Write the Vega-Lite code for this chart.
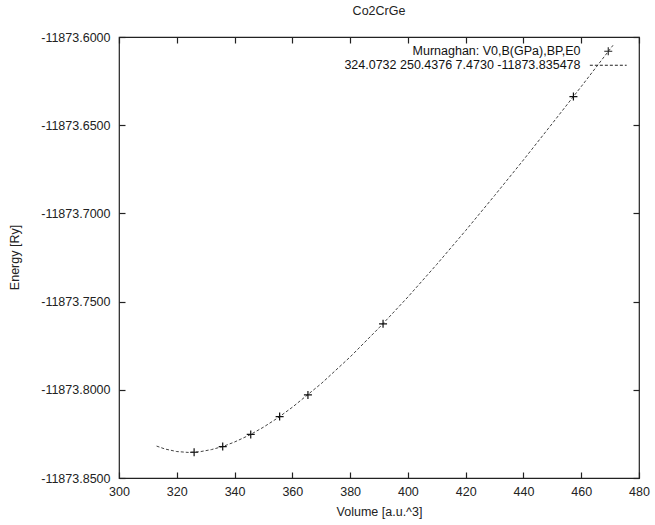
{
  "$schema": "https://vega.github.io/schema/vega-lite/v6.json",
  "width": 520,
  "height": 441,
  "autosize": "none",
  "padding": {"left": 119, "top": 37, "right": 16, "bottom": 47},
  "background": "white",
  "title": {"text": "Co2CrGe", "fontSize": 12.5, "fontWeight": "normal", "font": "Liberation Sans", "color": "#222", "offset": 14, "anchor": "middle"},
  "config": {"view": {"stroke": "#222", "strokeWidth": 1.2}, "font": "Liberation Sans"},
  "datasets": {
    "pts": [
      {"V": 326.0, "E": -11873.8354, "series": "Murnaghan: V0,B(GPa),BP,E0"},
      {"V": 335.9, "E": -11873.8322, "series": "Murnaghan: V0,B(GPa),BP,E0"},
      {"V": 345.6, "E": -11873.8253, "series": "Murnaghan: V0,B(GPa),BP,E0"},
      {"V": 355.6, "E": -11873.8152, "series": "Murnaghan: V0,B(GPa),BP,E0"},
      {"V": 365.4, "E": -11873.8029, "series": "Murnaghan: V0,B(GPa),BP,E0"},
      {"V": 391.4, "E": -11873.7626, "series": "Murnaghan: V0,B(GPa),BP,E0"},
      {"V": 457.3, "E": -11873.6338, "series": "Murnaghan: V0,B(GPa),BP,E0"}
    ],
    "fit": [
      {"V": 313, "E": -11873.8319, "series": "324.0732 250.4376 7.4730 -11873.835478"},
      {"V": 316, "E": -11873.8336, "series": "324.0732 250.4376 7.4730 -11873.835478"},
      {"V": 320, "E": -11873.8350, "series": "324.0732 250.4376 7.4730 -11873.835478"},
      {"V": 324, "E": -11873.8355, "series": "324.0732 250.4376 7.4730 -11873.835478"},
      {"V": 328, "E": -11873.8351, "series": "324.0732 250.4376 7.4730 -11873.835478"},
      {"V": 332, "E": -11873.8339, "series": "324.0732 250.4376 7.4730 -11873.835478"},
      {"V": 336, "E": -11873.8321, "series": "324.0732 250.4376 7.4730 -11873.835478"},
      {"V": 340, "E": -11873.8296, "series": "324.0732 250.4376 7.4730 -11873.835478"},
      {"V": 345, "E": -11873.8258, "series": "324.0732 250.4376 7.4730 -11873.835478"},
      {"V": 350, "E": -11873.8212, "series": "324.0732 250.4376 7.4730 -11873.835478"},
      {"V": 355, "E": -11873.8159, "series": "324.0732 250.4376 7.4730 -11873.835478"},
      {"V": 360, "E": -11873.8099, "series": "324.0732 250.4376 7.4730 -11873.835478"},
      {"V": 370, "E": -11873.7965, "series": "324.0732 250.4376 7.4730 -11873.835478"},
      {"V": 380, "E": -11873.7814, "series": "324.0732 250.4376 7.4730 -11873.835478"},
      {"V": 390, "E": -11873.7649, "series": "324.0732 250.4376 7.4730 -11873.835478"},
      {"V": 400, "E": -11873.7474, "series": "324.0732 250.4376 7.4730 -11873.835478"},
      {"V": 410, "E": -11873.7289, "series": "324.0732 250.4376 7.4730 -11873.835478"},
      {"V": 420, "E": -11873.7097, "series": "324.0732 250.4376 7.4730 -11873.835478"},
      {"V": 430, "E": -11873.6899, "series": "324.0732 250.4376 7.4730 -11873.835478"},
      {"V": 440, "E": -11873.6697, "series": "324.0732 250.4376 7.4730 -11873.835478"},
      {"V": 450, "E": -11873.6490, "series": "324.0732 250.4376 7.4730 -11873.835478"},
      {"V": 460, "E": -11873.6281, "series": "324.0732 250.4376 7.4730 -11873.835478"},
      {"V": 471, "E": -11873.6047, "series": "324.0732 250.4376 7.4730 -11873.835478"}
    ]
  },
  "layer": [
    {
      "data": {"name": "fit"},
      "mark": {"type": "line", "color": "#444", "strokeWidth": 1},
      "encoding": {
        "x": {"field": "V", "type": "quantitative",
          "scale": {"domain": [300, 480], "nice": false, "zero": false},
          "axis": {"orient": "bottom", "values": [300, 320, 340, 360, 380, 400, 420, 440, 460, 480],
            "tickSize": -6, "tickColor": "#222", "tickWidth": 1.2, "labelPadding": 13, "domain": false, "grid": false,
            "labelFont": "Liberation Sans", "labelFontSize": 12.5, "labelColor": "#222", "labelFlush": false,
            "title": "Volume [a.u.^3]", "titleFont": "Liberation Sans", "titleFontSize": 12.5, "titleFontWeight": "normal", "titleColor": "#222", "titlePadding": 8}},
        "y": {"field": "E", "type": "quantitative",
          "scale": {"domain": [-11873.85, -11873.6], "nice": false, "zero": false},
          "axis": {"orient": "left", "values": [-11873.85, -11873.8, -11873.75, -11873.7, -11873.65, -11873.6],
            "tickSize": -6, "tickColor": "#222", "tickWidth": 1.2, "labelPadding": 15, "domain": false, "grid": false,
            "labelExpr": "replace(format(datum.value, '.4f'), '\u2212', '-')",
            "labelFont": "Liberation Sans", "labelFontSize": 12.5, "labelColor": "#222", "labelFlush": false,
            "title": "Energy [Ry]", "titleFont": "Liberation Sans", "titleFontSize": 12.5, "titleFontWeight": "normal", "titleColor": "#222", "titleX": -98, "titleY": 220}},
        "strokeDash": {"field": "series", "type": "nominal",
          "scale": {"domain": ["Murnaghan: V0,B(GPa),BP,E0", "324.0732 250.4376 7.4730 -11873.835478"], "range": [[1, 0], [3, 2]]},
          "legend": {"orient": "none", "legendX": 483, "legendY": 8, "title": null, "labelAlign": "right", "labelOffset": -34,
            "labelFontSize": 12.5, "labelFont": "Liberation Sans", "labelColor": "#111", "labelLimit": 400,
            "symbolSize": 64, "rowPadding": 1, "padding": 0, "symbolOpacity": 1,
            "symbolStrokeColor": "#333", "symbolFillColor": "transparent", "symbolStrokeWidth": 1,
            "encode": {"symbols": {"update": {"stroke": {"value": "#222"}, "strokeWidth": {"value": 1.1}, "fill": {"value": "transparent"}, "opacity": {"value": 1}, "size": {"value": 64}}}}}}
      }
    },
    {
      "data": {"name": "pts"},
      "mark": {"type": "point", "filled": false, "color": "#111", "strokeWidth": 1.2, "opacity": 1, "size": 64},
      "encoding": {
        "x": {"field": "V", "type": "quantitative",
          "axis": {"orient": "top", "values": [300, 320, 340, 360, 380, 400, 420, 440, 460, 480],
            "tickSize": -6, "tickColor": "#222", "tickWidth": 1.2, "labels": false, "domain": false, "grid": false, "title": null}},
        "y": {"field": "E", "type": "quantitative",
          "axis": {"orient": "right", "values": [-11873.85, -11873.8, -11873.75, -11873.7, -11873.65, -11873.6],
            "tickSize": -6, "tickColor": "#222", "tickWidth": 1.2, "labels": false, "domain": false, "grid": false, "title": null}},
        "shape": {"field": "series", "type": "nominal",
          "scale": {"domain": ["Murnaghan: V0,B(GPa),BP,E0", "324.0732 250.4376 7.4730 -11873.835478"], "range": ["M-1,0L1,0M0,-1L0,1", "M-4.6,0L4.6,0"]},
          "legend": {"orient": "none", "legendX": 483, "legendY": 8, "title": null, "labelAlign": "right", "labelOffset": -34,
            "labelFontSize": 12.5, "labelFont": "Liberation Sans", "labelColor": "#111", "labelLimit": 400,
            "symbolSize": 64, "rowPadding": 1, "padding": 0, "symbolOpacity": 1,
            "symbolStrokeColor": "#333", "symbolFillColor": "transparent", "symbolStrokeWidth": 1,
            "encode": {"symbols": {"update": {"stroke": {"value": "#222"}, "strokeWidth": {"value": 1.1}, "fill": {"value": "transparent"}, "opacity": {"value": 1}, "size": {"value": 64}}}}}}
      }
    }
  ],
  "resolve": {"axis": {"x": "independent", "y": "independent"}}
}
